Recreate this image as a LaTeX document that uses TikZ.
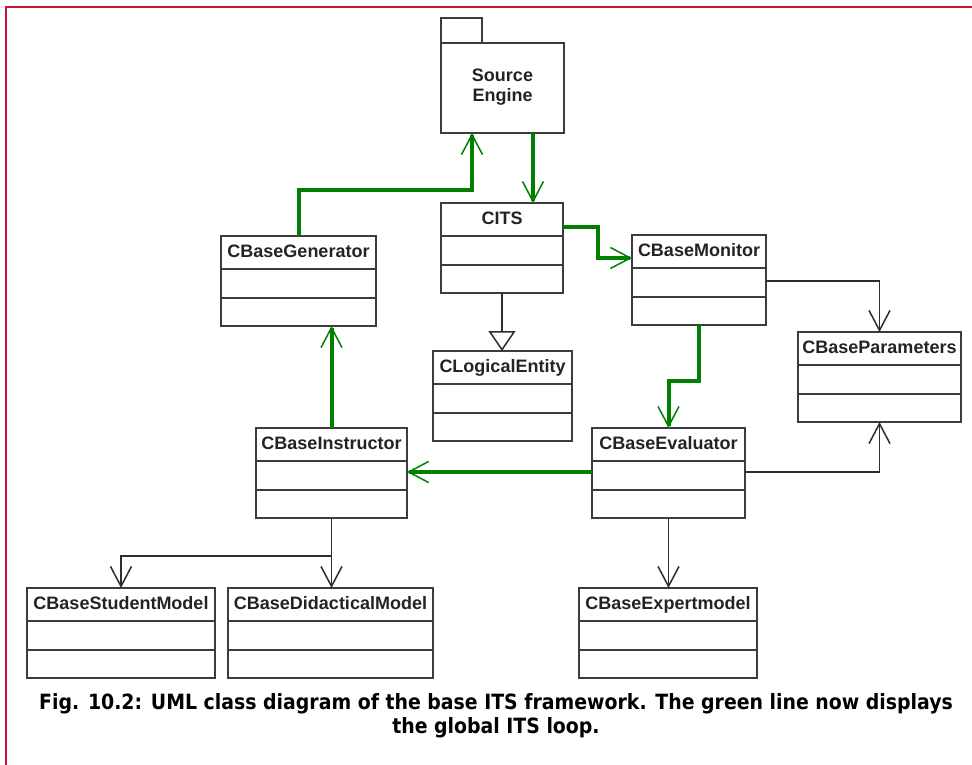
\documentclass[tikz,border=0pt]{standalone}
\usepackage{fontspec}
\setmainfont{Liberation Sans}
\newfontfamily\capfont{DejaVu Sans Condensed}
\usetikzlibrary{arrows.meta}

\definecolor{bordc}{RGB}{200,20,50}
\definecolor{gcol}{RGB}{0,128,0}
\definecolor{boxc}{RGB}{60,60,60}
\definecolor{linec}{RGB}{45,45,45}
\definecolor{txtc}{RGB}{35,35,35}

\tikzset{
  openv/.tip={Straight Barb[length=20pt, width=21pt, line width=1.5pt]},
  clsbox/.style={draw=boxc, line width=1.7pt, rectangle, minimum height=90pt, inner sep=0pt, outer sep=0pt},
  clsline/.style={draw=boxc, line width=1.7pt},
  clsname/.style={anchor=base, inner sep=0pt, text=txtc, font=\bfseries\fontsize{18}{20}\selectfont},
  gline/.style={draw=gcol, line width=4pt, -openv},
  bline/.style={draw=linec, line width=1.7pt, -openv},
  inh/.style={draw=linec, line width=1.7pt, -{Triangle[length=20pt, width=27pt, fill=white, line width=1.5pt]}},
  captxt/.style={anchor=base, inner sep=0pt, font=\capfont\bfseries\fontsize{21}{24}\selectfont},
}

% class box: name, centre x, top y, width, label
\newcommand\umlclass[5]{%
  \node[clsbox, minimum width=#4pt] (#1) at (#2, #3+45) {};
  \node[clsname] (#1-t) at (#2, #3+21) {#5};
  \draw[clsline] ([yshift=-33pt]#1.north west) -- ([yshift=-33pt]#1.north east);
  \draw[clsline] ([yshift=-62pt]#1.north west) -- ([yshift=-62pt]#1.north east);
}

\begin{document}
\begin{tikzpicture}[x=1pt, y=-1pt]
\useasboundingbox (0,0) rectangle (972,765);

% frame
\draw[bordc, line width=2.2pt] (6,766) -- (6,7) -- (973,7);

% package
\node[clsbox, minimum width=123pt] (src) at (502.5,88) {};
\draw[clsline] (src.north west) rectangle ([xshift=41pt, yshift=25pt]src.north west);
\node[clsname, align=center, anchor=base] (src-t) at (502.5,102)
  {Source\\[0pt]Engine};

% classes
\umlclass{cits}{502}{203}{122}{CITS}
\umlclass{gen}{298.5}{236}{155}{CBaseGenerator}
\umlclass{mon}{699}{235}{134}{CBaseMonitor}
\umlclass{par}{879.5}{332}{163}{CBaseParameters}
\umlclass{log}{502.5}{351}{139}{CLogicalEntity}
\umlclass{ins}{331.5}{428}{151}{CBaseInstructor}
\umlclass{eva}{668.5}{428}{153}{CBaseEvaluator}
\umlclass{stu}{121}{588}{188}{CBaseStudentModel}
\umlclass{did}{330.5}{588}{205}{CBaseDidacticalModel}
\umlclass{exp}{668}{588}{178}{CBaseExpertmodel}

% global loop
\draw[gline] (gen.north) |- ([xshift=-30.5pt, yshift=-57pt]src.south) -- ([xshift=-30.5pt]src.south);
\draw[gline] ([xshift=30.5pt]src.south) -- ([xshift=31pt]cits.north);
\draw[gline] ([yshift=-24pt]cits.north east) -- ++(35,0) |- ([yshift=-23pt]mon.north west);
\draw[gline] (mon.south) -- ++(0,56) -| (eva.north);
\draw[gline] ([yshift=-44pt]eva.north west) -- ([yshift=-44pt]ins.north east);
\draw[gline] (ins.north) -- (ins.north |- gen.south);

% other associations
\draw[inh] (cits.south) -- (cits.south |- log.north);
\draw[bline] ([yshift=-46pt]mon.north east) -| (par.north);
\draw[bline] ([yshift=-44pt]eva.north east) -| (par.south);
\draw[bline] (eva.south) -- (eva.south |- exp.north);
\draw[bline] (ins.south) -- (ins.south |- did.north);
\draw[bline] ([yshift=-38pt]ins.south) -| (stu.north);

% caption
\node[captxt] (cap1) at (496,709) {Fig. 10.2: UML class diagram of the base ITS framework. The green line now displays};
\node[captxt] (cap2) at (496,733) {the global ITS loop.};
\end{tikzpicture}
\end{document}
